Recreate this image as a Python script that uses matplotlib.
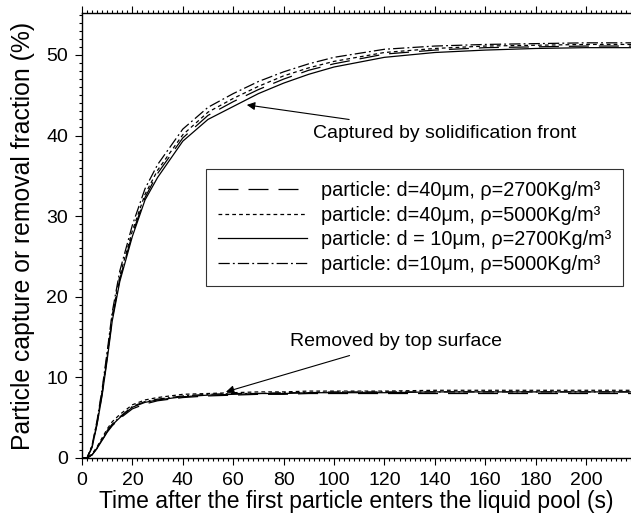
import matplotlib
matplotlib.use("Agg")
import matplotlib.pyplot as plt
from matplotlib.ticker import MultipleLocator

plt.rcParams['font.family'] = ['Liberation Sans', 'DejaVu Sans']

# time (s)
t = [0, 2, 4, 6, 8, 10, 12, 15, 20, 25, 30, 40, 50, 60, 70, 80, 90, 100,
     120, 140, 160, 180, 200, 218]

# Captured by solidification front (%)
cap_40_2700 = [0, 0, 1.4, 4.3, 8.0, 12.5, 17.3, 22.2, 27.8, 32.3, 35.3, 39.7, 42.5,
               44.2, 45.7, 47.0, 48.1, 48.9, 50.1, 50.6, 50.9, 51.0, 51.1, 51.1]
cap_40_5000 = [0, 0, 1.5, 4.5, 8.3, 12.8, 17.7, 22.6, 28.2, 32.7, 35.7, 40.1, 42.9,
               44.6, 46.1, 47.4, 48.4, 49.2, 50.3, 50.8, 51.1, 51.2, 51.3, 51.3]
cap_10_2700 = [0, 0, 1.3, 4.2, 7.8, 12.2, 17.0, 21.9, 27.5, 32.0, 34.8, 39.3, 42.0,
               43.6, 45.2, 46.5, 47.6, 48.5, 49.7, 50.3, 50.6, 50.8, 50.9, 50.9]
cap_10_5000 = [0, 0, 1.6, 4.7, 8.6, 13.2, 18.1, 23.2, 28.9, 33.4, 36.4, 40.8, 43.5,
               45.2, 46.7, 47.9, 48.9, 49.7, 50.7, 51.1, 51.3, 51.4, 51.5, 51.5]

# Removed by top surface (%)
rem_40_2700 = [0, 0, 0.4, 1.2, 2.2, 3.2, 4.0, 4.9, 6.1, 6.7, 7.1, 7.5, 7.7,
               7.8, 7.9, 7.9, 8.0, 8.0, 8.0, 8.0, 8.0, 8.0, 8.0, 8.0]
rem_40_5000 = [0, 0, 0.5, 1.4, 2.5, 3.6, 4.5, 5.4, 6.6, 7.2, 7.5, 7.9, 8.0,
               8.1, 8.2, 8.2, 8.3, 8.3, 8.3, 8.4, 8.4, 8.4, 8.4, 8.4]
rem_10_2700 = [0, 0, 0.4, 1.2, 2.2, 3.3, 4.1, 5.0, 6.3, 6.9, 7.2, 7.6, 7.8,
               7.9, 8.0, 8.0, 8.1, 8.1, 8.1, 8.2, 8.2, 8.2, 8.2, 8.2]
rem_10_5000 = [0, 0, 0.4, 1.3, 2.3, 3.4, 4.2, 5.1, 6.4, 7.0, 7.3, 7.7, 7.9,
               8.0, 8.0, 8.1, 8.1, 8.2, 8.2, 8.2, 8.2, 8.2, 8.2, 8.2]

labels = ["particle: d=40μm, ρ=2700Kg/m³",
          "particle: d=40μm, ρ=5000Kg/m³",
          "particle: d = 10μm, ρ=2700Kg/m³",
          "particle: d=10μm, ρ=5000Kg/m³"]

cap_series = [cap_40_2700, cap_40_5000, cap_10_2700, cap_10_5000]
rem_series = [rem_40_2700, rem_40_5000, rem_10_2700, rem_10_5000]
styles = [(0, (16, 8)), (0, (3, 2.5)), '-', (0, (9, 2.5, 1.5, 2.5))]

fig = plt.figure(figsize=(6.31, 5.22), dpi=100)
W, H = 631, 522
XMAX = 218
x0, x1 = 82, 82 + 2.52 * XMAX
y0, y1 = 458, 13
ax = fig.add_axes([x0 / W, 1 - y0 / H, (x1 - x0) / W, (y0 - y1) / H])

for c, r, ls, lab in zip(cap_series, rem_series, styles, labels):
    ax.plot(t, c, color='black', lw=0.9, linestyle=ls, label=lab)
    ax.plot(t, r, color='black', lw=0.9, linestyle=ls)

ax.set_xlim(0, XMAX)
ax.set_ylim(0, 55.2)
ax.xaxis.set_major_locator(MultipleLocator(20))
ax.xaxis.set_minor_locator(MultipleLocator(2))
ax.yaxis.set_major_locator(MultipleLocator(10))
ax.yaxis.set_minor_locator(MultipleLocator(1))
ax.tick_params(which='both', direction='out', top=True, right=False,
               labelsize=14, width=0.8)
ax.tick_params(which='major', length=5, pad=5)
ax.tick_params(which='minor', length=2.5)
ax.spines['right'].set_visible(False)
for s in ['left', 'bottom', 'top']:
    ax.spines[s].set_linewidth(1.0)

ax.set_xlabel("Time after the first particle enters the liquid pool (s)", fontsize=16.5, labelpad=1)
ax.set_ylabel("Particle capture or removal fraction (%)", fontsize=17.8, labelpad=8)

leg = ax.legend(loc='upper left', bbox_to_anchor=((206 - x0) / (x1 - x0), (y0 - 169) / (y0 - y1)),
                fontsize=14.3, frameon=True, fancybox=False, edgecolor='black',
                handlelength=4.5, handletextpad=0.7, labelspacing=0.29,
                borderpad=0.6, borderaxespad=0)
leg.get_frame().set_linewidth(0.8)

ax.annotate("Captured by solidification front", xy=(65.4, 43.8), xytext=(91.7, 40.3),
            fontsize=14, va='center', ha='left',
            arrowprops=dict(arrowstyle='-|>', color='black', lw=0.8,
                            shrinkA=12, shrinkB=0, mutation_scale=12))
ax.annotate("Removed by top surface", xy=(57.1, 8.2), xytext=(82.5, 14.4),
            fontsize=14, va='center', ha='left',
            arrowprops=dict(arrowstyle='-|>', color='black', lw=0.8,
                            shrinkA=6, shrinkB=0, mutation_scale=12))

fig.savefig("out.png", dpi=100)
